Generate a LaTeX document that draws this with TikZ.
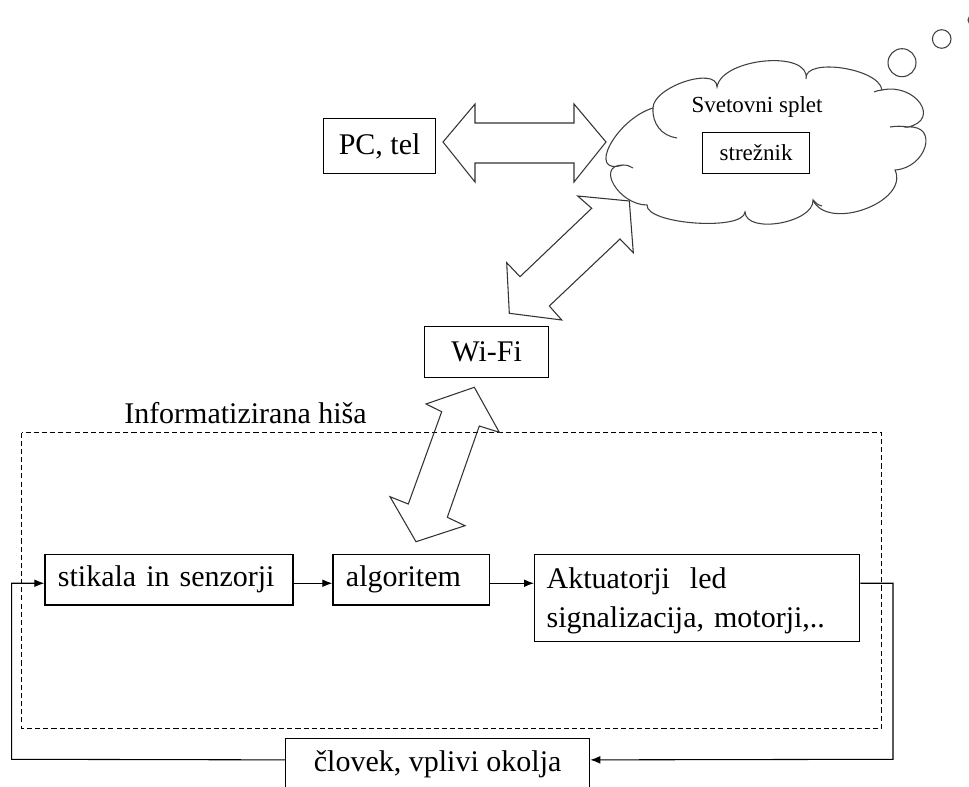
\documentclass[tikz,border=0pt]{standalone}
\usepackage{fontspec}
\setmainfont{Liberation Serif}
\usetikzlibrary{arrows.meta,calc}
\newcommand\bigfs{\fontsize{22.5pt}{29pt}\selectfont}
\newcommand\smfs{\fontsize{17.25pt}{20pt}\selectfont}
\begin{document}
\begin{tikzpicture}[x=0.75pt,y=-0.75pt,
  box/.style={draw, line width=0.95pt, inner ysep=0pt, font=\bigfs},
  lbox/.style={box, anchor=north west, align=left, inner xsep={13*0.75pt}},
  onebox/.style={lbox, text height=15.4pt, text depth=4.9pt},
  cbox/.style={box, anchor=north west, align=center, inner xsep=0pt},
  conn/.style={line width=0.8pt, -{Latex[length=7.5pt,width=5.8pt]}},
  blockarrow/.style={draw=black!80, line width=0.8pt, line join=miter},
  cloudline/.style={draw=black!75, line width=0.8pt},
  house/.style={draw, line width=0.8pt, dash pattern=on 3.8pt off 2.3pt}]
\useasboundingbox (0,0) rectangle (969,787);
\clip (0,0) rectangle (969,787);

% house boundary
\draw[house] (21.7,432.7) rectangle (881.5,728.3);
\node[font=\bigfs, anchor=base west, inner sep=0pt] (hlabel) at (124,423.3) {Informatizirana hiša};

% boxes
\node[cbox, minimum width={112*0.75pt}, minimum height={55*0.75pt}] (pc) at (323,118) {PC, tel};
\node[cbox, minimum width={124*0.75pt}, minimum height={51*0.75pt}] (wifi) at (424,326) {Wi-Fi};
\node[onebox, minimum width={248*0.75pt}, minimum height={50.3*0.75pt}, text width={222*0.75pt}] (stik) at (44.3,554) {stikala in senzorji};
\node[onebox, minimum width={156.7*0.75pt}, minimum height={50.3*0.75pt}, text width={130.7*0.75pt}] (alg) at (332.3,554) {algoritem};
\node[lbox, minimum width={325*0.75pt}, minimum height={87*0.75pt}, text width={301*0.75pt}, inner xsep={12*0.75pt}] (akt) at (534,554) {\rule{0pt}{19.9pt}Aktuatorji\ \ led\\signalizacija, motorji,..};
\node[cbox, minimum width={304*0.75pt}, minimum height={51*0.75pt}] (hum) at (285,738) {človek, vplivi okolja};

% cloud
\draw[cloudline] (653,108)
 .. controls (653,86.7) and (717,65.7) .. (717,87)
 .. controls (721.7,57.7) and (810.7,49.7) .. (806,79)
 .. controls (803.3,57) and (879.3,68) .. (882,90)
 .. controls (915.3,82.7) and (941.3,119.7) .. (908,127)
 .. controls (939.3,125) and (926.3,168) .. (895,170)
 .. controls (909.7,202) and (827.7,232) .. (813,200)
 .. controls (814.3,222.7) and (746.3,234.7) .. (745,212)
 .. controls (743.7,231.3) and (645.7,224.3) .. (647,205)
 .. controls (619,205) and (595,165) .. (623,165)
 .. controls (585.7,176.3) and (615.7,119.3) .. (653,108)
 -- cycle;
\draw[cloudline] (653,108) .. controls (652,124) and (662,136) .. (677,138);
\draw[cloudline] (623,165) .. controls (627,165) and (630,166) .. (633,168);
\draw[cloudline] (882,90) .. controls (879,90) and (877,91) .. (874,92);
\draw[cloudline] (908,127) .. controls (902,126) and (896,126) .. (890,127);
\draw[cloudline] (813,200) .. controls (815,203) and (818,205) .. (822,206);
\draw[cloudline] (902,62.7) circle (14);
\draw[cloudline] (941.7,39) circle (9.3);
\draw[cloudline] (973,20) circle (5);
\node[font=\smfs, inner sep=0pt] (web) at (757,107.3) {Svetovni splet};
\node[draw, line width=0.9pt, font=\smfs, anchor=north west, minimum width={107*0.75pt}, minimum height={41*0.75pt}, inner sep=0pt] (srv) at (702,132) {strežnik};

% block arrows
\draw[blockarrow] (443,142) -- (475,104) -- (475,123) -- (574,123) -- (574,104) -- (606,142)
  -- (574,182) -- (574,163) -- (475,163) -- (475,182) -- cycle;
\draw[blockarrow] (577.7,196) -- (629.3,201) -- (633.3,252.7) -- (620,239) -- (549.3,306)
  -- (561.7,320) -- (509.3,313.3) -- (506.7,262.7) -- (520,276.7) -- (591.7,208.3) -- cycle;
\draw[blockarrow] (426,404) -- (474.3,387.3) -- (499.3,432.3) -- (479.3,426) -- (447.3,517.3)
  -- (465,525.7) -- (416,541.7) -- (390,496.7) -- (408.3,504) -- (441.7,411.7) -- cycle;

% connectors
\coordinate (cr) at (893,759.3);
\coordinate (cl) at (11.7,759.3);
\draw[conn] ([yshift=-2.6pt]stik.east) -- ([yshift=-2.6pt]alg.west);
\draw[conn] ([yshift=-2.6pt]alg.east) -- ([yshift=-2.6pt]alg.east -| akt.west);
\draw[conn] ([yshift=-2.6pt]alg.east -| akt.east) -| (cr) -- ([yshift=3.2pt]hum.east);
\draw[conn] ([yshift=3.2pt]hum.west) -- (cl) |- ([yshift=-2.6pt]stik.west);
\end{tikzpicture}
\end{document}
